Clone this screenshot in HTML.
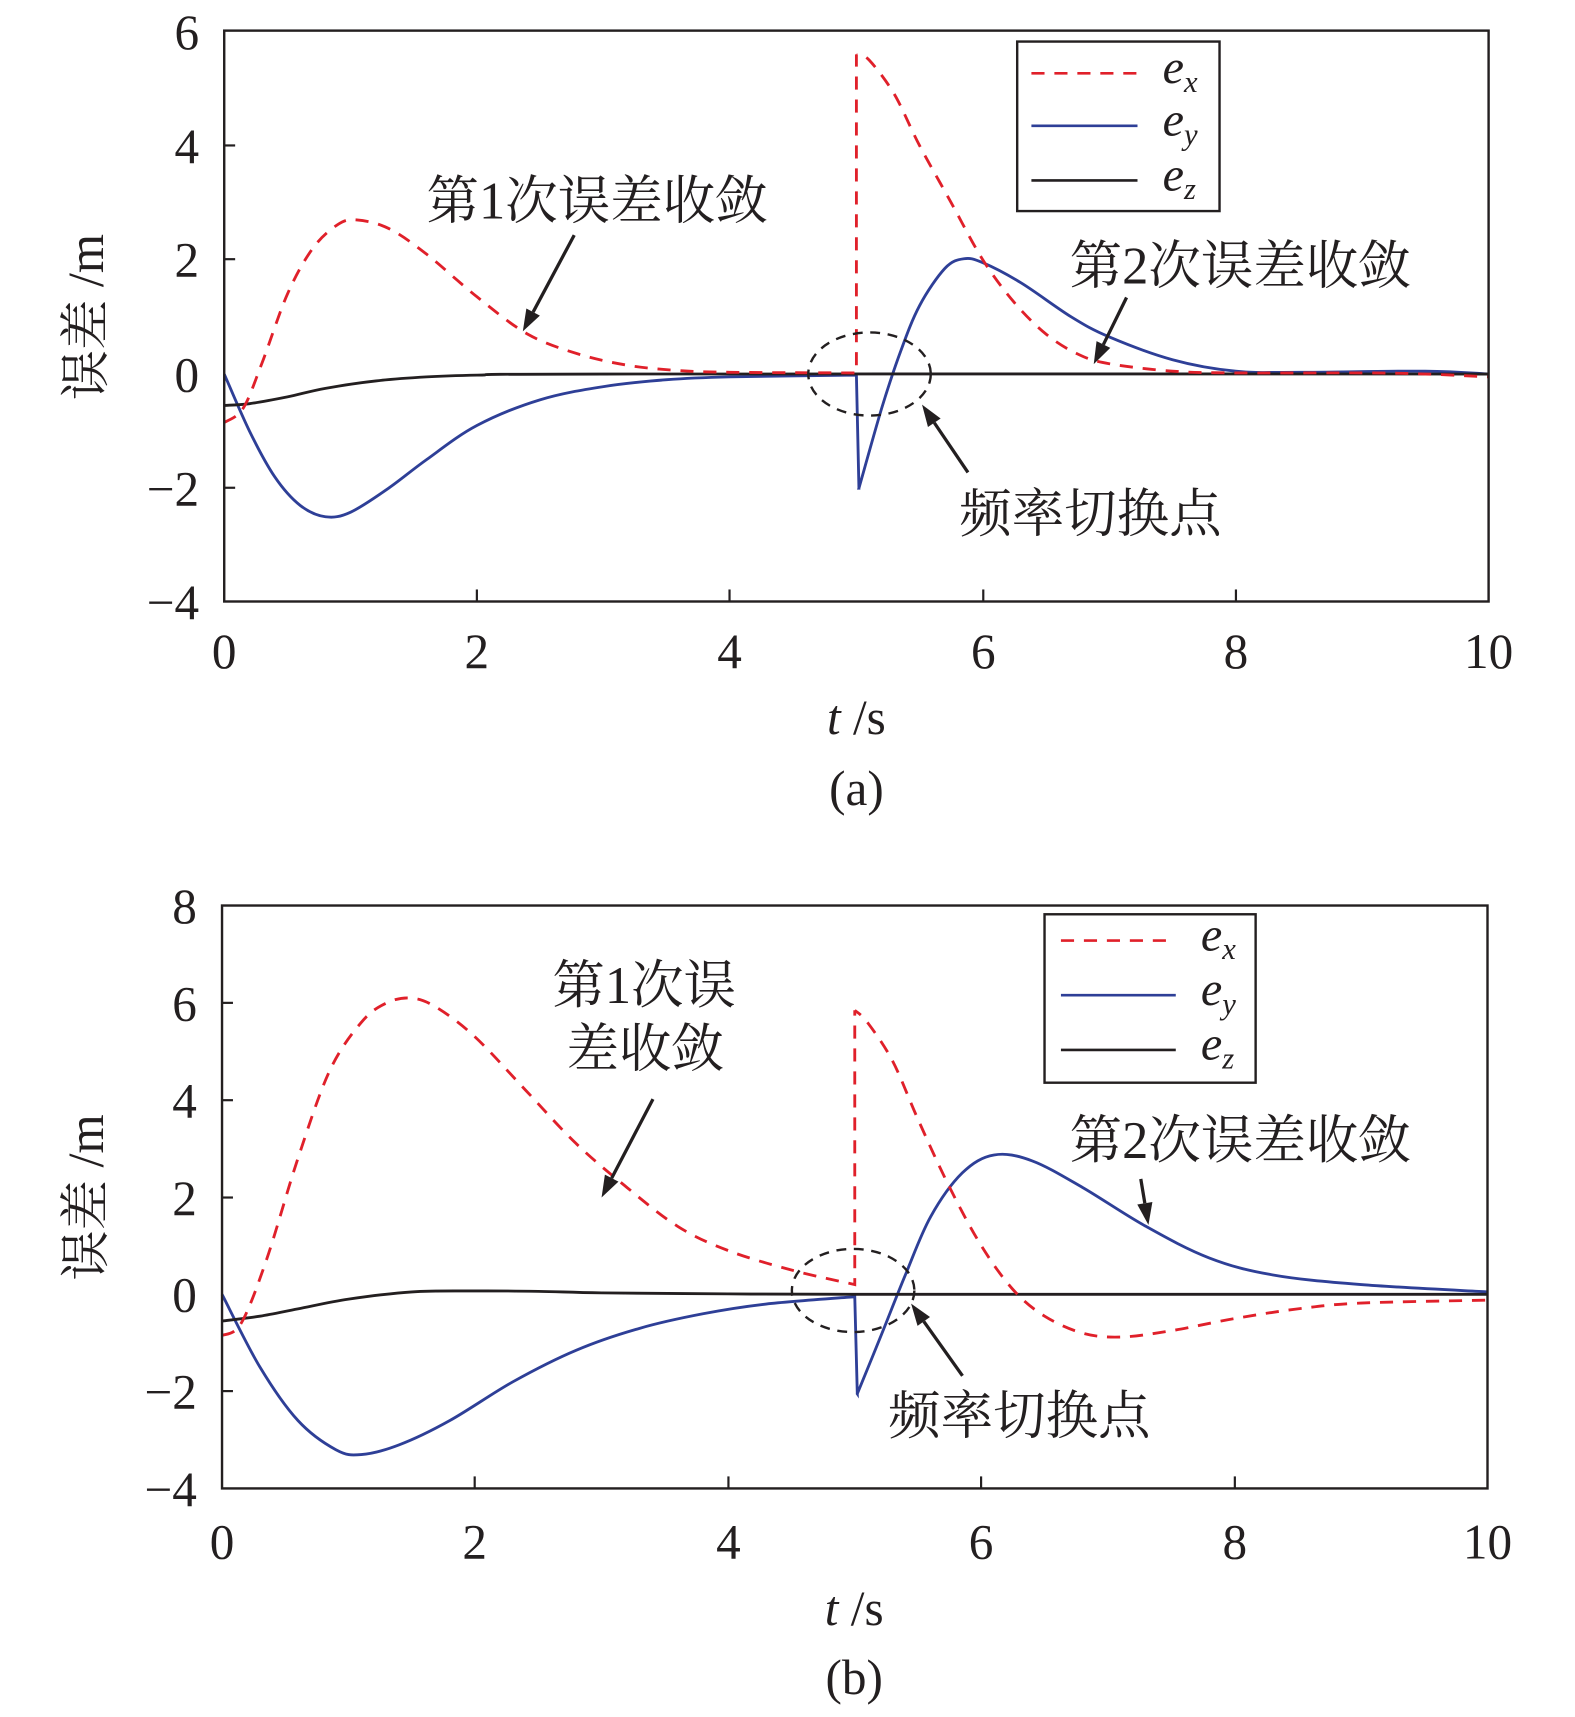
<!DOCTYPE html>
<html><head><meta charset="utf-8"><style>
html,body{margin:0;padding:0;background:#fff;}
svg{display:block;}
text{font-family:"Liberation Serif","Times New Roman","Noto Serif CJK SC",serif;fill:#231f20;}
.cj{font-family:"Noto Serif CJK SC","Liberation Serif",serif;}
</style></head><body>
<svg id="s" width="1575" height="1717" viewBox="0 0 1440 1570" preserveAspectRatio="none" xmlns="http://www.w3.org/2000/svg">
<rect width="1440" height="1570" fill="#fff"/>
<g id="curves"></g>
<rect x="205" y="28" width="1156" height="522" fill="none" stroke="#231f20" stroke-width="2.2"/>
<g stroke="#231f20" stroke-width="2">
<line x1="436" y1="550" x2="436" y2="539"/><line x1="667" y1="550" x2="667" y2="539"/><line x1="899" y1="550" x2="899" y2="539"/><line x1="1130" y1="550" x2="1130" y2="539"/>
<line x1="205" y1="133" x2="215" y2="133"/><line x1="205" y1="237" x2="215" y2="237"/><line x1="205" y1="446" x2="215" y2="446"/>
</g>
<g font-size="45" text-anchor="end">
<text x="182" y="45">6</text><text x="182" y="149">4</text><text x="182" y="253">2</text><text x="182" y="358">0</text><text x="182" y="462">−2</text><text x="182" y="566">−4</text>
</g>
<g font-size="45" text-anchor="middle">
<text x="205" y="611">0</text><text x="436" y="611">2</text><text x="667" y="611">4</text><text x="899" y="611">6</text><text x="1130" y="611">8</text><text x="1361" y="611">10</text>
</g>
<text x="783" y="671" font-size="45" text-anchor="middle"><tspan font-style="italic">t</tspan> /s</text>
<text x="783" y="736" font-size="45" text-anchor="middle">(a)</text>
<text transform="translate(94,290) rotate(-90)" font-size="46" text-anchor="middle">误差 /m</text>
<rect x="930" y="38" width="185" height="155" fill="#fff" stroke="#231f20" stroke-width="2.2"/>
<line x1="943" y1="67" x2="1040" y2="67" stroke="#e0202a" stroke-width="2.4" stroke-dasharray="12,9"/>
<line x1="943" y1="115" x2="1040" y2="115" stroke="#2e3f97" stroke-width="2.4"/>
<line x1="943" y1="165" x2="1040" y2="165" stroke="#231f20" stroke-width="2.4"/>
<g font-size="44" font-style="italic"><text x="1063" y="76">e<tspan font-size="28" dy="8">x</tspan></text><text x="1063" y="124">e<tspan font-size="28" dy="8">y</tspan></text><text x="1063" y="174">e<tspan font-size="28" dy="8">z</tspan></text></g>
<g font-size="48">
<text x="390" y="200">第1次误差收敛</text>
<text x="978" y="259">第2次误差收敛</text>
<text x="877" y="486">频率切换点</text>
</g>
<ellipse cx="795" cy="342" rx="56" ry="38" fill="none" stroke="#231f20" stroke-width="2.2" stroke-dasharray="9,7"/>

<rect x="203" y="828" width="1157" height="533" fill="none" stroke="#231f20" stroke-width="2.2"/>
<g stroke="#231f20" stroke-width="2">
<line x1="434" y1="1361" x2="434" y2="1350"/><line x1="666" y1="1361" x2="666" y2="1350"/><line x1="897" y1="1361" x2="897" y2="1350"/><line x1="1129" y1="1361" x2="1129" y2="1350"/>
<line x1="203" y1="917" x2="213" y2="917"/><line x1="203" y1="1006" x2="213" y2="1006"/><line x1="203" y1="1095" x2="213" y2="1095"/><line x1="203" y1="1272" x2="213" y2="1272"/>
</g>
<g font-size="45" text-anchor="end">
<text x="180" y="844">8</text><text x="180" y="933">6</text><text x="180" y="1022">4</text><text x="180" y="1111">2</text><text x="180" y="1199">0</text><text x="180" y="1288">−2</text><text x="180" y="1377">−4</text>
</g>
<g font-size="45" text-anchor="middle">
<text x="203" y="1425">0</text><text x="434" y="1425">2</text><text x="666" y="1425">4</text><text x="897" y="1425">6</text><text x="1129" y="1425">8</text><text x="1360" y="1425">10</text>
</g>
<text x="781" y="1486" font-size="45" text-anchor="middle"><tspan font-style="italic">t</tspan> /s</text>
<text x="781" y="1549" font-size="45" text-anchor="middle">(b)</text>
<text transform="translate(94,1095) rotate(-90)" font-size="46" text-anchor="middle">误差 /m</text>
<rect x="955" y="836" width="193" height="154" fill="#fff" stroke="#231f20" stroke-width="2.2"/>
<line x1="970" y1="860" x2="1075" y2="860" stroke="#e0202a" stroke-width="2.4" stroke-dasharray="12,9"/>
<line x1="970" y1="910" x2="1075" y2="910" stroke="#2e3f97" stroke-width="2.4"/>
<line x1="970" y1="960" x2="1075" y2="960" stroke="#231f20" stroke-width="2.4"/>
<g font-size="44" font-style="italic"><text x="1098" y="869">e<tspan font-size="28" dy="8">x</tspan></text><text x="1098" y="919">e<tspan font-size="28" dy="8">y</tspan></text><text x="1098" y="969">e<tspan font-size="28" dy="8">z</tspan></text></g>
<g font-size="48">
<text x="505" y="917">第1次误</text>
<text x="518" y="975">差收敛</text>
<text x="978" y="1059">第2次误差收敛</text>
<text x="812" y="1311">频率切换点</text>
</g>
<ellipse cx="780" cy="1180" rx="56" ry="38" fill="none" stroke="#231f20" stroke-width="2.2" stroke-dasharray="9,7"/>
<g id="arrows"></g>
</svg>
<script>
function cr(pts,X,Y){var p=pts.map(function(q){return [X(q[0]),Y(q[1])];});var d="M"+p[0][0].toFixed(1)+","+p[0][1].toFixed(1);
for(var i=0;i<p.length-1;i++){var p0=p[i-1]||p[i],p1=p[i],p2=p[i+1],p3=p[i+2]||p2;
var c1=[p1[0]+(p2[0]-p0[0])/6,p1[1]+(p2[1]-p0[1])/6],c2=[p2[0]-(p3[0]-p1[0])/6,p2[1]-(p3[1]-p1[1])/6];
d+="C"+c1[0].toFixed(1)+","+c1[1].toFixed(1)+" "+c2[0].toFixed(1)+","+c2[1].toFixed(1)+" "+p2[0].toFixed(1)+","+p2[1].toFixed(1);}return d;}
var g=document.getElementById("curves"),NS="http://www.w3.org/2000/svg";
function path(d,c,dash){var e=document.createElementNS(NS,"path");e.setAttribute("d",d);e.setAttribute("fill","none");e.setAttribute("stroke",c);e.setAttribute("stroke-width","2.6");if(dash)e.setAttribute("stroke-dasharray","12,9");g.appendChild(e);}
var R="#e0202a",B="#2e3f97",K="#231f20";
var Xa=function(t){return 205+t*115.6},Ya=function(v){return 342-v*52.2};
var ez=[[0,-0.55],[0.2,-0.52],[0.5,-0.4],[0.8,-0.25],[1.2,-0.12],[1.6,-0.05],[2,-0.02],[3,0],[10,0]];
path(cr([[0,0],[0.2,-1.0],[0.4,-1.8],[0.6,-2.3],[0.8,-2.5],[1.0,-2.42],[1.3,-2.0],[1.6,-1.5],[2,-0.9],[2.5,-0.45],[3,-0.22],[3.5,-0.1],[4,-0.05],[5,-0.02]],Xa,Ya)+"L"+Xa(5.02)+","+Ya(-2)+cr([[5.02,-2.0],[5.2,-0.6],[5.35,0.4],[5.5,1.2],[5.7,1.85],[5.85,2.02],[6,1.95],[6.3,1.6],[6.7,1.0],[7,0.65],[7.5,0.25],[8,0.05],[8.5,0.03],[9.5,0.05],[10,0]],Xa,Ya).replace("M","L"),B);
path(cr(ez,Xa,Ya),K);
path(cr([[0,-0.85],[0.15,-0.6],[0.3,0.2],[0.5,1.4],[0.7,2.2],[0.9,2.62],[1.05,2.7],[1.3,2.55],[1.6,2.1],[2,1.35],[2.4,0.7],[2.8,0.35],[3.2,0.15],[3.6,0.06],[4,0.03],[5,0.02]],Xa,Ya)+"L"+Xa(5)+","+Ya(5.6)+cr([[5,5.6],[5.1,5.5],[5.3,4.9],[5.5,4.0],[5.75,3.0],[6,2.0],[6.25,1.25],[6.5,0.7],[6.75,0.35],[7,0.18],[7.5,0.05],[8,0.02],[9,0.02],[9.5,0],[10,-0.05]],Xa,Ya).replace("M","L"),R,1);
var Xb=function(t){return 203+t*115.7},Yb=function(v){return 1183.5-v*44.4};
path(cr([[0,0],[0.3,-1.5],[0.6,-2.6],[0.9,-3.2],[1.1,-3.3],[1.4,-3.1],[1.8,-2.6],[2.3,-1.8],[2.8,-1.15],[3.3,-0.7],[3.8,-0.4],[4.3,-0.2],[5,-0.05]],Xb,Yb)+"L"+Xb(5.02)+","+Yb(-2.05)+cr([[5.02,-2.05],[5.2,-0.9],[5.4,0.4],[5.6,1.6],[5.85,2.5],[6.1,2.87],[6.4,2.75],[6.8,2.2],[7.3,1.4],[7.8,0.75],[8.3,0.4],[9,0.2],[10,0.05]],Xb,Yb).replace("M","L"),B);
path(cr([[0,-0.55],[0.3,-0.45],[0.6,-0.3],[1,-0.1],[1.5,0.05],[2,0.07],[2.5,0.06],[3,0.03],[4,0.01],[5,0],[10,0]],Xb,Yb),K);
path(cr([[0,-0.85],[0.15,-0.6],[0.35,0.7],[0.6,2.8],[0.85,4.6],[1.1,5.6],[1.3,6.0],[1.5,6.1],[1.7,5.9],[2,5.3],[2.4,4.2],[2.8,3.1],[3.2,2.2],[3.6,1.4],[4,0.9],[4.5,0.5],[5,0.2]],Xb,Yb)+"L"+Xb(5)+","+Yb(5.85)+cr([[5,5.85],[5.1,5.6],[5.3,4.8],[5.5,3.6],[5.75,2.2],[6,1.0],[6.25,0.1],[6.5,-0.45],[6.8,-0.8],[7.1,-0.88],[7.5,-0.75],[8,-0.5],[8.5,-0.3],[9,-0.18],[10,-0.12]],Xb,Yb).replace("M","L"),R,1);
var A=document.getElementById("arrows");
function arrow(x1,y1,x2,y2){var dx=x2-x1,dy=y2-y1,L=Math.hypot(dx,dy),ux=dx/L,uy=dy/L,h=20,w=7;
var bx=x2-ux*h,by=y2-uy*h;
var l=document.createElementNS(NS,"line");l.setAttribute("x1",x1);l.setAttribute("y1",y1);l.setAttribute("x2",bx);l.setAttribute("y2",by);l.setAttribute("stroke",K);l.setAttribute("stroke-width","3");A.appendChild(l);
var p=document.createElementNS(NS,"polygon");p.setAttribute("points",x2+","+y2+" "+(bx-uy*w)+","+(by+ux*w)+" "+(bx+uy*w)+","+(by-ux*w));p.setAttribute("fill",K);A.appendChild(p);}
arrow(525,215,478,303);arrow(1030,272,1000,333);arrow(885,432,843,370);
arrow(597,1005,550,1095);arrow(1043,1078,1050,1120);arrow(880,1258,833,1192);
</script>
</body></html>
